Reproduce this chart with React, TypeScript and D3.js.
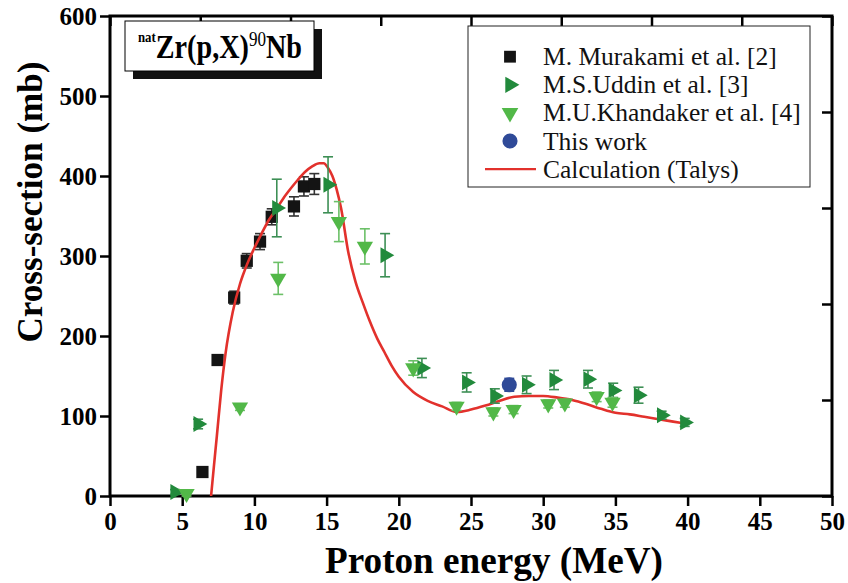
import React, { useEffect, useRef } from "react";
import * as d3 from "d3";

// Murakami et al. [2]
const murakamiE = [6.4, 7.45, 8.6, 9.47, 10.39, 11.2, 12.74, 13.43, 14.15];
const murakamiXS = [30, 170, 248, 294, 318, 349, 362, 387, 390];
const murakamiErr = [3, 4, 8, 9, 10, 10, 12, 12, 13];

// Uddin et al. [3]
const uddinE = [4.5, 6.1, 11.55, 15.1, 19.05, 21.6, 24.7, 26.65, 28.85, 30.75, 33.1, 34.85, 36.6, 38.2, 39.8];
const uddinXS = [5, 90, 360, 389, 301, 160, 142, 125, 139, 145, 146, 132, 126, 101, 92];
const uddinErr = [3, 6, 36, 35, 27, 12, 12, 9, 11, 12, 11, 9, 10, 5, 5];

// Khandaker et al. [4]
const khandakerE = [5.3, 9.0, 11.65, 15.85, 17.65, 21.0, 24.0, 26.55, 27.95, 30.35, 31.5, 33.7, 34.8];
const khandakerXS = [3, 111, 272, 343, 312, 160, 112, 105, 108, 115, 116, 124, 117];
const khandakerErr = [3, 4, 20, 25, 22, 9, 5, 5, 5, 5, 5, 6, 6];

// this work
const thisE = [27.65];
const thisXS = [139];
const thisErr = [8];

// Talys calculation
const talysE = [7.0, 7.2, 7.4, 7.7, 8.0, 8.5, 9.0, 9.5, 10.0, 10.5, 11.0, 11.5, 12.0, 12.5, 13.0, 13.5, 14.0, 14.5, 14.8, 15.1, 15.4, 15.7, 16.0, 16.5, 17.0, 17.5, 18.0, 18.5, 19.0, 19.5, 20.0, 21.0, 22.0, 23.0, 24.0, 25.0, 26.0, 27.0, 28.0, 29.0, 30.0, 31.0, 32.0, 33.0, 34.0, 35.0, 36.0, 37.0, 38.0, 39.0, 40.0];
const talysXS = [0, 38, 75, 132, 178, 230, 265, 290, 310, 328, 345, 358, 372, 384, 395, 405, 412, 416, 416, 410, 400, 383, 360, 305, 268, 242, 218, 197, 180, 163, 149, 130, 119, 112, 105, 108, 113, 119, 124, 125, 125, 123, 120, 115, 109, 104, 102, 99, 96, 93, 90];

const xTicks = [0, 5, 10, 15, 20, 25, 30, 35, 40, 45, 50];
const yTicks = [0, 100, 200, 300, 400, 500, 600];

const legendLabels = ["M. Murakami et al. [2]", "M.S.Uddin et al. [3]", "M.U.Khandaker et al. [4]", "This work", "Calculation (Talys)"];

const W = 848, H = 583;
const serif = '"Liberation Serif"';
const cBlack = "#141414", cDark = "#228a3c", cLight = "#52b848", cBlue = "#2f4a98", cRed = "#e2312c";

export default function App() {
  const ref = useRef<SVGSVGElement>(null);

  useEffect(() => {
    const svg = d3.select(ref.current);
    svg.selectAll("*").remove();
    const left = 110, right = 832, top = 16, bottom = 496;
    const x = d3.scaleLinear().domain([0, 50]).range([left, right]);
    const y = d3.scaleLinear().domain([0, 600]).range([bottom, top]);

    // bottom axis
    const gx = svg.append("g").attr("transform", `translate(0,${bottom})`);
    gx.call(d3.axisBottom(x).tickValues(d3.range(2.5, 50, 5)).tickSize(6).tickFormat(() => ""));
    gx.call(d3.axisBottom(x).tickValues(xTicks).tickSize(10).tickPadding(6).tickFormat(d3.format("d")) as any);
    gx.selectAll("text").style("font-family", serif).attr("font-weight", "bold").attr("font-size", 25).attr("fill", "#000");

    // left axis
    const gy = svg.append("g").attr("transform", `translate(${left},0)`);
    gy.call(d3.axisLeft(y).tickValues(d3.range(50, 600, 100)).tickSize(6).tickFormat(() => ""));
    gy.call(d3.axisLeft(y).tickValues(yTicks).tickSize(10).tickPadding(3).tickFormat(d3.format("d")) as any);
    gy.selectAll("text").style("font-family", serif).attr("font-weight", "bold").attr("font-size", 25).attr("fill", "#000");

    // top axis (own division, inward ticks)
    const xt = d3.scaleLinear().domain([0, 8]).range([left, right]);
    const gt = svg.append("g").attr("transform", `translate(0,${top})`);
    gt.call(d3.axisBottom(xt).tickValues(d3.range(0.5, 8, 1)).tickSize(6).tickFormat(() => ""));
    gt.call(d3.axisBottom(xt).tickValues(d3.range(0, 9, 1)).tickSize(10).tickFormat(() => ""));

    // right axis (own division, inward ticks)
    const yr = d3.scaleLinear().domain([0, 5]).range([bottom, top]);
    const gr = svg.append("g").attr("transform", `translate(${right},0)`);
    gr.call(d3.axisLeft(yr).tickValues(d3.range(0.5, 5, 1)).tickSize(6).tickFormat(() => ""));
    gr.call(d3.axisLeft(yr).tickValues(d3.range(0, 6, 1)).tickSize(10).tickFormat(() => ""));

    svg.selectAll(".domain").remove();
    svg.selectAll(".tick line").attr("stroke", "#000").attr("stroke-width", 2.5);

    svg.append("rect").attr("x", left).attr("y", top).attr("width", right - left).attr("height", bottom - top)
      .attr("fill", "none").attr("stroke", "#000").attr("stroke-width", 3);

    // axis titles
    svg.append("text").attr("x", 494).attr("y", 573).attr("text-anchor", "middle")
      .style("font-family", serif).attr("font-weight", "bold").attr("font-size", 37)
      .attr("textLength", 338).attr("lengthAdjust", "spacingAndGlyphs").text("Proton energy (MeV)");
    svg.append("text").attr("transform", "translate(42,202) rotate(-90)").attr("text-anchor", "middle")
      .style("font-family", serif).attr("font-weight", "bold").attr("font-size", 36)
      .attr("textLength", 281).attr("lengthAdjust", "spacingAndGlyphs").text("Cross-section (mb)");

    // title box
    svg.append("rect").attr("x", 133).attr("y", 29).attr("width", 189).attr("height", 50).attr("fill", "#111");
    svg.append("rect").attr("x", 125).attr("y", 21).attr("width", 189).attr("height", 50).attr("fill", "#fff").attr("stroke", "#000").attr("stroke-width", 1);
    const tt = svg.append("text").attr("x", 138).attr("y", 58).style("font-family", serif).attr("font-weight", "bold")
      .attr("textLength", 164).attr("lengthAdjust", "spacingAndGlyphs");
    tt.append("tspan").attr("font-size", 15).attr("dy", -16).text("nat");
    tt.append("tspan").attr("font-size", 33).attr("dy", 16).text("Zr(p,X)");
    tt.append("tspan").attr("font-size", 20).attr("font-weight", "normal").attr("dy", -12).text("90");
    tt.append("tspan").attr("font-size", 33).attr("dy", 12).text("Nb");

    const errBars = (E: number[], V: number[], Er: number[], color: string) => {
      const g = svg.append("g").attr("stroke", color).attr("stroke-width", 1.6).attr("fill", "none");
      E.forEach((e, i) => {
        const cx = x(e), y1 = y(V[i] + Er[i]), y2 = y(V[i] - Er[i]);
        g.append("line").attr("x1", cx).attr("x2", cx).attr("y1", y1).attr("y2", y2);
        g.append("line").attr("x1", cx - 5).attr("x2", cx + 5).attr("y1", y1).attr("y2", y1);
        g.append("line").attr("x1", cx - 5).attr("x2", cx + 5).attr("y1", y2).attr("y2", y2);
      });
    };
    const marks = (E: number[], V: number[], type: any, size: number, rot: number, color: string) => {
      const sym = d3.symbol().type(type).size(size);
      svg.append("g").selectAll("path").data(E).join("path")
        .attr("d", sym() as string)
        .attr("transform", (e, i) => `translate(${x(e)},${y(V[i])}) rotate(${rot})`)
        .attr("fill", color);
    };

    errBars(murakamiE, murakamiXS, murakamiErr, "#333");
    marks(murakamiE, murakamiXS, d3.symbolSquare, 150, 0, cBlack);

    const line = d3.line<number>().x(d => x(d)).y((d, i) => y(talysXS[i])).curve(d3.curveMonotoneX);
    svg.append("path").attr("d", line(talysE) as string).attr("fill", "none").attr("stroke", cRed).attr("stroke-width", 2.6);

    errBars(uddinE, uddinXS, uddinErr, "#3d8f55");
    marks(uddinE, uddinXS, d3.symbolTriangle, 110, 90, cDark);
    errBars(khandakerE, khandakerXS, khandakerErr, "#6cc068");
    marks(khandakerE, khandakerXS, d3.symbolTriangle, 115, 180, cLight);
    errBars(thisE, thisXS, thisErr, cBlue);
    marks(thisE, thisXS, d3.symbolCircle, 180, 0, cBlue);

    // legend
    const lg = svg.append("g");
    lg.append("rect").attr("x", 468).attr("y", 26).attr("width", 342).attr("height", 161)
      .attr("fill", "#fff").attr("stroke", "#222").attr("stroke-width", 1);
    const rowY = (i: number) => 56.7 + i * 28.1;
    const legSyms: [any, number, number, string][] = [
      [d3.symbolSquare, 140, 0, cBlack],
      [d3.symbolTriangle, 115, 90, cDark],
      [d3.symbolTriangle, 120, 180, cLight],
      [d3.symbolCircle, 180, 0, cBlue],
    ];
    legSyms.forEach(([t, s, r, c], i) => {
      lg.append("path").attr("d", d3.symbol().type(t).size(s)() as string)
        .attr("transform", `translate(510,${rowY(i)}) rotate(${r})`).attr("fill", c);
    });
    lg.append("line").attr("x1", 485).attr("x2", 536).attr("y1", rowY(4)).attr("y2", rowY(4))
      .attr("stroke", cRed).attr("stroke-width", 2.4);
    legendLabels.forEach((l, i) => {
      lg.append("text").attr("x", 543).attr("y", rowY(i) + 8.5).style("font-family", serif)
        .attr("font-size", 25.5).attr("fill", "#111").text(l);
    });
  }, []);

  return (
    <svg ref={ref} width={W} height={H} style={{ position: "absolute", left: 0, top: 0, background: "#fff" }} />
  );
}
